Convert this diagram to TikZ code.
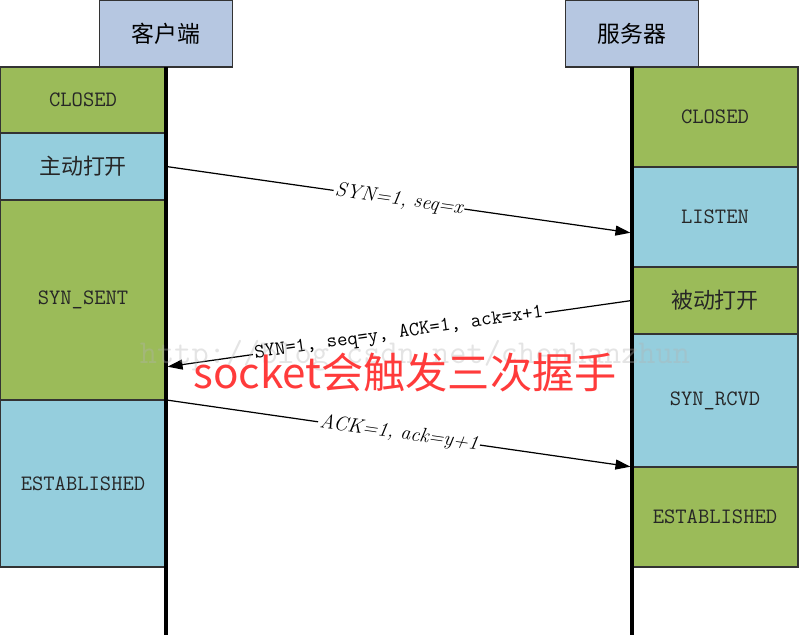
\documentclass[tikz,border=0pt]{standalone}
\usepackage{fontspec}
\usepackage{xcolor}
\usepackage{tikz}
\usetikzlibrary{arrows.meta, positioning}
\newfontfamily\cjk{Noto Sans CJK SC}
\definecolor{stgreen}{RGB}{155,187,89}
\definecolor{stblue}{RGB}{149,206,221}
\definecolor{headblue}{RGB}{182,199,225}
\definecolor{notered}{RGB}{255,59,59}

\begin{document}
\begin{tikzpicture}[
    x=0.02cm, y=-0.02cm,
    every node/.style={align=center, outer sep=0pt},
    head/.style={draw=black!80, fill=headblue, line width=0.8pt, minimum width=2.66cm,
                 minimum height=1.34cm, font=\cjk\fontsize{13}{15}\selectfont},
    gstate/.style={draw=black!80, fill=stgreen, line width=0.8pt, minimum width=3.32cm,
                   font=\fontsize{12.5}{15}\selectfont\ttfamily, text=black!85},
    bstate/.style={gstate, fill=stblue},
    life/.style={line width=1.8pt},
    msg/.style={-{Triangle[length=0.3cm, width=0.2cm]}, line width=0.7pt, shorten >=0.9pt},
    lbl/.style={fill=white, inner sep=1pt, sloped, font=\fontsize{11.5}{13}\selectfont\itshape},
    lblmono/.style={lbl, font=\fontsize{11.5}{13}\selectfont\ttfamily},
    wmark/.style={text=gray!60, text opacity=0.35, font=\fontsize{19}{22}\selectfont\ttfamily},
    note/.style={text=notered, font=\cjk\fontsize{24}{28}\selectfont}
  ]
    \useasboundingbox (0,0) rectangle (800,639);

    \node[head] (client) at (166,33.5) {客户端};
    \node[head] (server) at (632,33.5) {服务器};

    \node[gstate, anchor=north east, minimum height=1.32cm] (cclosed) at (client.south) {CLOSED};
    \node[bstate, below=0cm of cclosed, minimum height=1.34cm] (copen) {\cjk 主动打开};
    \node[gstate, below=0cm of copen, minimum height=4cm]      (csent) {SYN\_SENT};
    \node[bstate, below=0cm of csent, minimum height=3.34cm]   (cest)  {ESTABLISHED};

    \node[gstate, anchor=north west, minimum height=2cm] (sclosed) at (server.south) {CLOSED};
    \node[bstate, below=0cm of sclosed, minimum height=2cm]   (slisten)  {LISTEN};
    \node[gstate, below=0cm of slisten, minimum height=1.34cm] (spassive) {\cjk 被动打开};
    \node[bstate, below=0cm of spassive, minimum height=2.66cm] (srcvd)   {SYN\_RCVD};
    \node[gstate, below=0cm of srcvd, minimum height=2cm]     (sest)     {ESTABLISHED};

    \coordinate (cend) at (166,635);
    \coordinate (send) at (632,635);
    \draw[life] (client.south) -- (cend);
    \draw[life] (server.south) -- (send);

    \draw[msg] (copen.east) -- node[lbl] {SYN=1, seq=x} ([yshift=-0.32cm]slisten.west);
    \draw[msg] (spassive.west) -- node[lblmono] {SYN=1, seq=y, ACK=1, ack=x+1} ([yshift=-1.34cm]csent.east);
    \draw[msg] (csent.south east) -- node[lbl] {ACK=1, ack=y+1} (sest.north west);

    \node[wmark] (url) at (415,356) {http://blog.csdn.net/chenhanzhun};
    \node[note] (hint) at (405,372) {socket会触发三次握手};
  \end{tikzpicture}
\end{document}
